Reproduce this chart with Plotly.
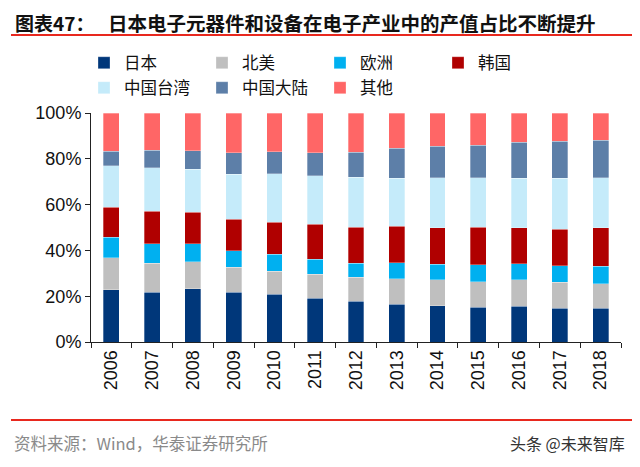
import plotly.graph_objects as go

years = ["2006", "2007", "2008", "2009", "2010", "2011", "2012",
         "2013", "2014", "2015", "2016", "2017", "2018"]

japan    = [22.9, 21.8, 23.3, 21.7, 20.8, 19.1, 17.9, 16.4, 15.8, 15.1, 15.7, 14.8, 14.8]
n_america= [13.8, 12.5, 11.7, 10.9, 10.1, 10.4, 10.3, 11.3, 11.3, 11.3, 11.4, 11.4, 10.7]
europe   = [9.0, 8.7, 7.8, 7.3, 7.4, 6.6, 6.3, 6.9, 6.9, 7.3, 7.1, 7.2, 7.5]
korea    = [13.2, 14.2, 13.9, 13.6, 14.0, 15.4, 15.6, 16.0, 15.9, 16.4, 15.7, 15.9, 16.9]
taiwan   = [18.1, 19.0, 18.7, 19.7, 21.2, 21.2, 21.9, 20.8, 21.9, 21.7, 21.5, 22.1, 21.8]
mainland = [6.3, 7.5, 8.2, 9.4, 9.6, 10.0, 10.8, 13.2, 13.7, 14.1, 15.8, 16.3, 16.3]
others   = [16.7, 16.3, 16.4, 17.4, 16.9, 17.3, 17.2, 15.4, 14.5, 14.1, 12.8, 12.3, 12.0]

y_ticks = [0, 20, 40, 60, 80, 100]
y_tick_labels = ["0%", "20%", "40%", "60%", "80%", "100%"]

series = [
    ("日本", japan, "#00377A", "legend"),
    ("北美", n_america, "#BFBFBF", "legend"),
    ("欧洲", europe, "#00B0F0", "legend"),
    ("韩国", korea, "#B00000", "legend"),
    ("中国台湾", taiwan, "#C5EBFA", "legend2"),
    ("中国大陆", mainland, "#5D7FA8", "legend2"),
    ("其他", others, "#FF6666", "legend2"),
]

fig = go.Figure()
for name, vals, color, lg in series:
    fig.add_trace(go.Bar(
        x=years, y=vals, name=name, legend=lg,
        marker=dict(color=color, line=dict(color="rgba(255,255,255,0.5)", width=0.6)),
    ))

# the page body has an 8px default margin; work in window pixels and convert
OFF = 8
FW, FH = 640 - OFF, 467 - OFF
PL, PR, PT, PB = 91, 621, 113, 342          # plot area in window pixels
L, R, T, B = PL - OFF, FW - (PR - OFF), PT - OFF, FH - (PB - OFF)
W, H = PR - PL, PB - PT

def px(x):
    return (x - PL) / W

def py(y):
    return (PB - y) / H

CJK = "Noto Sans CJK SC, sans-serif"
legend_common = dict(
    orientation="h", xanchor="left", yanchor="middle", traceorder="normal",
    entrywidth=73, entrywidthmode="pixels",
    font=dict(family=CJK, size=16.5, color="#111111"),
    bgcolor="rgba(0,0,0,0)", itemclick=False,
)

fig.update_layout(
    width=FW, height=FH,
    margin=dict(l=L, r=R, t=T, b=B, pad=0, autoexpand=False),
    paper_bgcolor="white", plot_bgcolor="white",
    barmode="stack", bargap=0.61,
    showlegend=True,
    legend=dict(x=px(84), y=py(63), **legend_common),
    legend2=dict(x=px(84), y=py(88), **legend_common),
    xaxis=dict(
        type="category", tickson="boundaries", ticks="outside", ticklen=5,
        tickcolor="#222", showline=True, linecolor="#222", linewidth=1,
        tickangle=-90, tickfont=dict(family="Arial, Liberation Sans", size=18, color="#111"),
        showgrid=False,
    ),
    yaxis=dict(
        range=[0, 100], tickmode="array", tickvals=y_ticks, ticktext=y_tick_labels,
        ticks="outside", ticklen=5, tickcolor="#222",
        showline=True, linecolor="#222", linewidth=1, showgrid=False, zeroline=False,
        tickfont=dict(family="Arial, Liberation Sans", size=18, color="#111"),
    ),
    font=dict(family=CJK),
)

# title
fig.add_annotation(xref="paper", yref="paper", x=px(13), y=py(22), xanchor="left", yanchor="middle",
                   text="<b>图表47：</b>", showarrow=False,
                   font=dict(family=CJK, size=19, color="#111"))
fig.add_annotation(xref="paper", yref="paper", x=px(106), y=py(22), xanchor="left", yanchor="middle",
                   text="<b>日本电子元器件和设备在电子产业中的产值占比不断提升</b>", showarrow=False,
                   font=dict(family=CJK, size=19.5, color="#111"))
# red rules
for yy in (35, 420):
    fig.add_shape(type="line", xref="paper", yref="paper",
                  x0=px(11), x1=px(635), y0=py(yy), y1=py(yy),
                  line=dict(color="#E8281E", width=2))
# source
fig.add_annotation(xref="paper", yref="paper", x=px(12), y=py(443), xanchor="left", yanchor="middle",
                   text="资料来源：Wind，华泰证券研究所", showarrow=False,
                   font=dict(family=CJK, size=16.5, color="#8A8A8A"))
fig.add_annotation(xref="paper", yref="paper", x=px(627), y=py(443), xanchor="right", yanchor="middle",
                   text="头条 @未来智库", showarrow=False,
                   font=dict(family=CJK, size=16, color="#333333"))

fig.write_html("out.html")
